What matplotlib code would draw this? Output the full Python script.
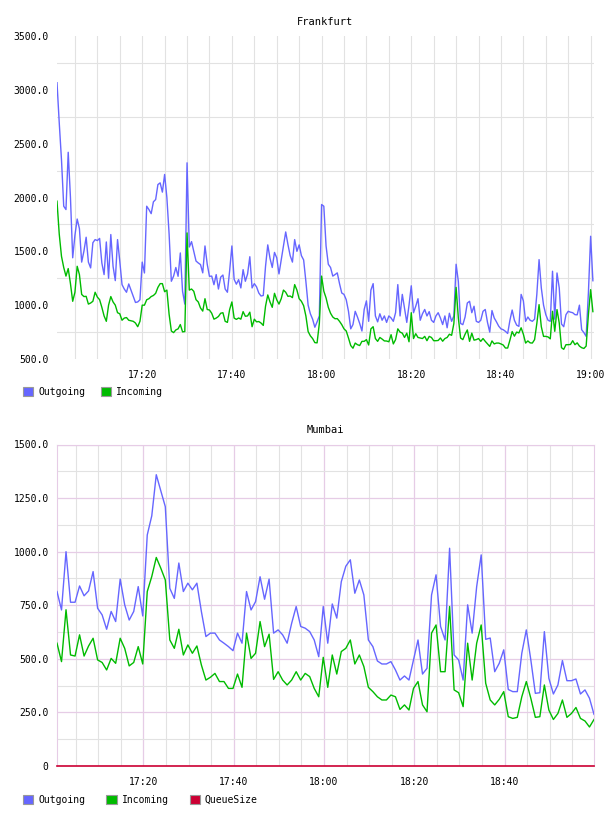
import numpy as np
import pandas as pd
import matplotlib
matplotlib.use("Agg")
import matplotlib.pyplot as plt
import matplotlib.dates as mdates
from matplotlib.patches import Patch
from matplotlib.ticker import MultipleLocator, FixedLocator, FuncFormatter

plt.rcParams['font.family'] = ['DejaVu Sans Mono']
plt.rcParams['font.size'] = 7

# Frankfurt: one sample every 30 s from 17:01
fra_start = "2024-01-01 17:01:00"
fra_out = [
    3066, 2694, 2350, 1919, 1888, 2420, 2000, 1440, 1650, 1800,
    1711, 1400, 1501, 1631, 1400, 1346, 1580, 1609, 1600, 1620,
    1392, 1284, 1587, 1250, 1656, 1361, 1228, 1609, 1408, 1191,
    1150, 1120, 1197, 1140, 1080, 1025, 1030, 1050, 1400, 1299,
    1919, 1888, 1850, 1960, 1981, 2120, 2136, 2050, 2214, 2000,
    1660, 1222, 1270, 1350, 1268, 1485, 1129, 1010, 2322, 1540,
    1590, 1500, 1410, 1392, 1377, 1300, 1550, 1380, 1268, 1270,
    1190, 1284, 1150, 1260, 1280, 1150, 1120, 1320, 1550, 1240,
    1195, 1237, 1160, 1330, 1222, 1290, 1450, 1160, 1200, 1170,
    1113, 1085, 1090, 1360, 1560, 1435, 1350, 1490, 1440, 1290,
    1420, 1550, 1680, 1563, 1460, 1400, 1609, 1500, 1560, 1460,
    1420, 1220, 1000, 920, 870, 795, 845, 900, 1935, 1919,
    1550, 1380, 1350, 1270, 1284, 1300, 1200, 1113, 1100, 1050,
    943, 780, 820, 943, 890, 830, 760, 960, 1040, 850,
    1140, 1200, 900, 845, 920, 860, 900, 840, 900, 881,
    850, 930, 1191, 900, 1100, 970, 840, 1000, 1180, 930,
    990, 1060, 860, 920, 960, 900, 940, 860, 840, 900,
    930, 881, 820, 900, 790, 925, 850, 900, 1380, 1220,
    830, 819, 890, 1020, 1036, 930, 990, 850, 840, 860,
    943, 960, 840, 750, 950, 881, 845, 805, 780, 772,
    757, 737, 860, 955, 860, 815, 803, 1100, 1040, 850,
    890, 860, 850, 870, 1100, 1423, 1160, 1000, 912, 860,
    850, 1315, 870, 1299, 1160, 825, 800, 912, 943, 935,
    930, 912, 910, 1000, 772, 745, 710, 1113, 1640, 1227,
]
fra_in = [
    1966, 1660, 1454, 1350, 1270, 1340, 1200, 1036, 1120, 1361,
    1284, 1100, 1080, 1082, 1010, 1020, 1036, 1120, 1075, 1051,
    980, 900, 850, 1000, 1080, 1030, 1000, 930, 920, 860,
    880, 885, 860, 855, 850, 834, 800, 850, 1000, 1000,
    1050, 1060, 1080, 1090, 1110, 1165, 1200, 1200, 1125, 1140,
    915, 760, 745, 770, 780, 820, 752, 755, 1671, 1140,
    1150, 1129, 1051, 1030, 974, 945, 1060, 960, 955, 925,
    870, 880, 895, 925, 930, 850, 840, 960, 1030, 880,
    868, 881, 870, 940, 897, 900, 935, 800, 870, 845,
    848, 834, 812, 990, 1095, 1030, 980, 1110, 1050, 1010,
    1060, 1140, 1120, 1082, 1085, 1070, 1191, 1140, 1060, 1036,
    995, 900, 755, 715, 690, 652, 650, 830, 1270, 1130,
    1067, 980, 925, 890, 874, 875, 850, 819, 780, 760,
    695, 625, 600, 648, 633, 625, 664, 664, 680, 630,
    780, 800, 690, 664, 700, 685, 668, 667, 660, 726,
    640, 680, 780, 750, 740, 700, 740, 660, 930, 690,
    735, 700, 695, 690, 710, 670, 710, 700, 670, 670,
    672, 695, 665, 690, 700, 730, 720, 830, 1165, 880,
    695, 680, 730, 770, 664, 740, 675, 680, 690, 664,
    690, 664, 640, 617, 668, 640, 648, 648, 640, 630,
    602, 602, 675, 755, 712, 750, 742, 790, 730, 648,
    668, 650, 648, 680, 830, 1005, 800, 710, 710, 705,
    687, 943, 757, 959, 834, 605, 590, 633, 633, 635,
    670, 633, 650, 620, 605, 598, 620, 912, 1144, 940,
]

# Mumbai: one sample per minute
mum_start = "2024-01-01 17:00:50"
mum_out = [
    814, 728, 1000, 764, 764, 840, 794, 817, 907, 736,
    705, 638, 721, 674, 872, 752, 681, 721, 837, 700,
    1078, 1167, 1359, 1284, 1210, 829, 782, 947, 814, 853,
    822, 853, 720, 604, 620, 620, 588, 573, 557, 538,
    620, 573, 814, 728, 767, 883, 778, 872, 620, 635,
    612, 573, 666, 744, 651, 643, 627, 588, 510, 744,
    573, 756, 690, 860, 932, 962, 806, 868, 798, 588,
    557, 490, 476, 476, 487, 448, 401, 420, 401, 495,
    588, 429, 456, 798, 892, 651, 588, 1016, 518, 495,
    401, 752, 620, 837, 985, 591, 597, 440, 479, 542,
    357, 347, 347, 526, 635, 495, 339, 342, 627, 409,
    336, 378, 492, 398, 398, 406, 336, 355, 316, 241,
]
mum_in = [
    573, 487, 729, 518, 513, 612, 513, 560, 596, 495,
    483, 448, 502, 479, 596, 549, 467, 483, 557, 476,
    814, 884, 973, 923, 868, 588, 549, 638, 518, 565,
    526, 560, 471, 401, 414, 432, 394, 394, 362, 362,
    429, 367, 620, 502, 526, 674, 557, 615, 404, 440,
    401, 378, 401, 440, 401, 432, 417, 362, 323, 507,
    367, 518, 429, 534, 549, 588, 476, 518, 464, 367,
    347, 323, 308, 308, 331, 323, 264, 285, 261, 362,
    394, 285, 253, 620, 658, 440, 440, 744, 355, 342,
    277, 573, 401, 573, 658, 386, 308, 285, 311, 347,
    230, 222, 227, 323, 394, 316, 227, 230, 378, 261,
    217, 245, 308, 227, 245, 273, 222, 210, 182, 217,
]
mum_queue = [0] * 120

C_OUT = "#6666ff"
C_IN = "#00bb00"
C_Q = "#cc0033"
GRID = "#e2e2e2"
PINK = "#e6cce6"

fra_t = pd.date_range(fra_start, periods=len(fra_out), freq="30s")
mum_t = pd.date_range(mum_start, periods=len(mum_out), freq="1min")

fig = plt.figure(figsize=(6.08, 8.16), dpi=100)
W, H = 608, 816


def time_axis(ax):
    ax.xaxis.set_major_locator(mdates.MinuteLocator(byminute=[0, 20, 40]))
    ax.xaxis.set_minor_locator(mdates.MinuteLocator(byminute=range(0, 60, 5)))
    ax.xaxis.set_major_formatter(mdates.DateFormatter("%H:%M"))
    ax.tick_params(which="both", length=0)
    ax.tick_params(axis="x", pad=8)
    ax.tick_params(axis="y", pad=6)


# ---- Frankfurt ----
ax1 = fig.add_axes([57 / W, 1 - 359 / H, 537 / W, 323 / H])
ax1.plot(fra_t, fra_out, color=C_OUT, lw=1.0, zorder=3)
ax1.plot(fra_t, fra_in, color=C_IN, lw=1.0, zorder=3)
ax1.set_ylim(500, 3500)
ax1.set_xlim(fra_t[0], fra_t[-1] + pd.Timedelta(seconds=15))
ax1.yaxis.set_major_locator(MultipleLocator(500))
ax1.yaxis.set_minor_locator(FixedLocator(np.arange(750, 3500, 500)))
ax1.yaxis.set_major_formatter(FuncFormatter(lambda v, p: f"{v:.1f}"))
time_axis(ax1)
ax1.grid(which="minor", axis="y", color=GRID, lw=0.8)
ax1.grid(which="both", axis="x", color=GRID, lw=0.8)
for s in ax1.spines.values():
    s.set_visible(False)
ax1.set_title("Frankfurt", fontsize=7.5, pad=8)
ax1.legend(handles=[Patch(facecolor=C_OUT, edgecolor="#999999", lw=0.8, label="Outgoing"),
                    Patch(facecolor=C_IN, edgecolor="#999999", lw=0.8, label="Incoming")],
           loc="center left", bbox_to_anchor=(23 / W, 1 - 392 / H), bbox_transform=fig.transFigure,
           ncol=2, frameon=False, handlelength=1.05, handleheight=1.05, handletextpad=0.5,
           columnspacing=1.6, borderpad=0, borderaxespad=0)

# ---- Mumbai ----
ax2 = fig.add_axes([57 / W, 1 - 766 / H, 537 / W, 321.5 / H])
ax2.plot(mum_t, mum_out, color=C_OUT, lw=1.0, zorder=3)
ax2.plot(mum_t, mum_in, color=C_IN, lw=1.0, zorder=3)
ax2.plot(mum_t, mum_queue, color=C_Q, lw=1.2, zorder=4, clip_on=False)
ax2.set_ylim(0, 1500)
ax2.set_xlim(mum_t[0], mum_t[-1])
ax2.yaxis.set_major_locator(MultipleLocator(250))
ax2.yaxis.set_minor_locator(FixedLocator(np.arange(125, 1500, 250)))
ax2.yaxis.set_major_formatter(FuncFormatter(lambda v, p: "0" if v == 0 else f"{v:.1f}"))
time_axis(ax2)
ax2.grid(which="minor", color=GRID, lw=0.8)
ax2.grid(which="major", color=PINK, lw=0.9)
for side in ["left", "right", "top"]:
    ax2.spines[side].set_color(PINK)
ax2.spines["bottom"].set_visible(False)
ax2.set_title("Mumbai", fontsize=7.5, pad=8)
ax2.legend(handles=[Patch(facecolor=C_OUT, edgecolor="#999999", lw=0.8, label="Outgoing"),
                    Patch(facecolor=C_IN, edgecolor="#999999", lw=0.8, label="Incoming"),
                    Patch(facecolor=C_Q, edgecolor="#999999", lw=0.8, label="QueueSize")],
           loc="center left", bbox_to_anchor=(23 / W, 1 - 800 / H), bbox_transform=fig.transFigure,
           ncol=3, frameon=False, handlelength=1.05, handleheight=1.05, handletextpad=0.5,
           columnspacing=2.2, borderpad=0, borderaxespad=0)

fig.savefig("out.png", dpi=100)
